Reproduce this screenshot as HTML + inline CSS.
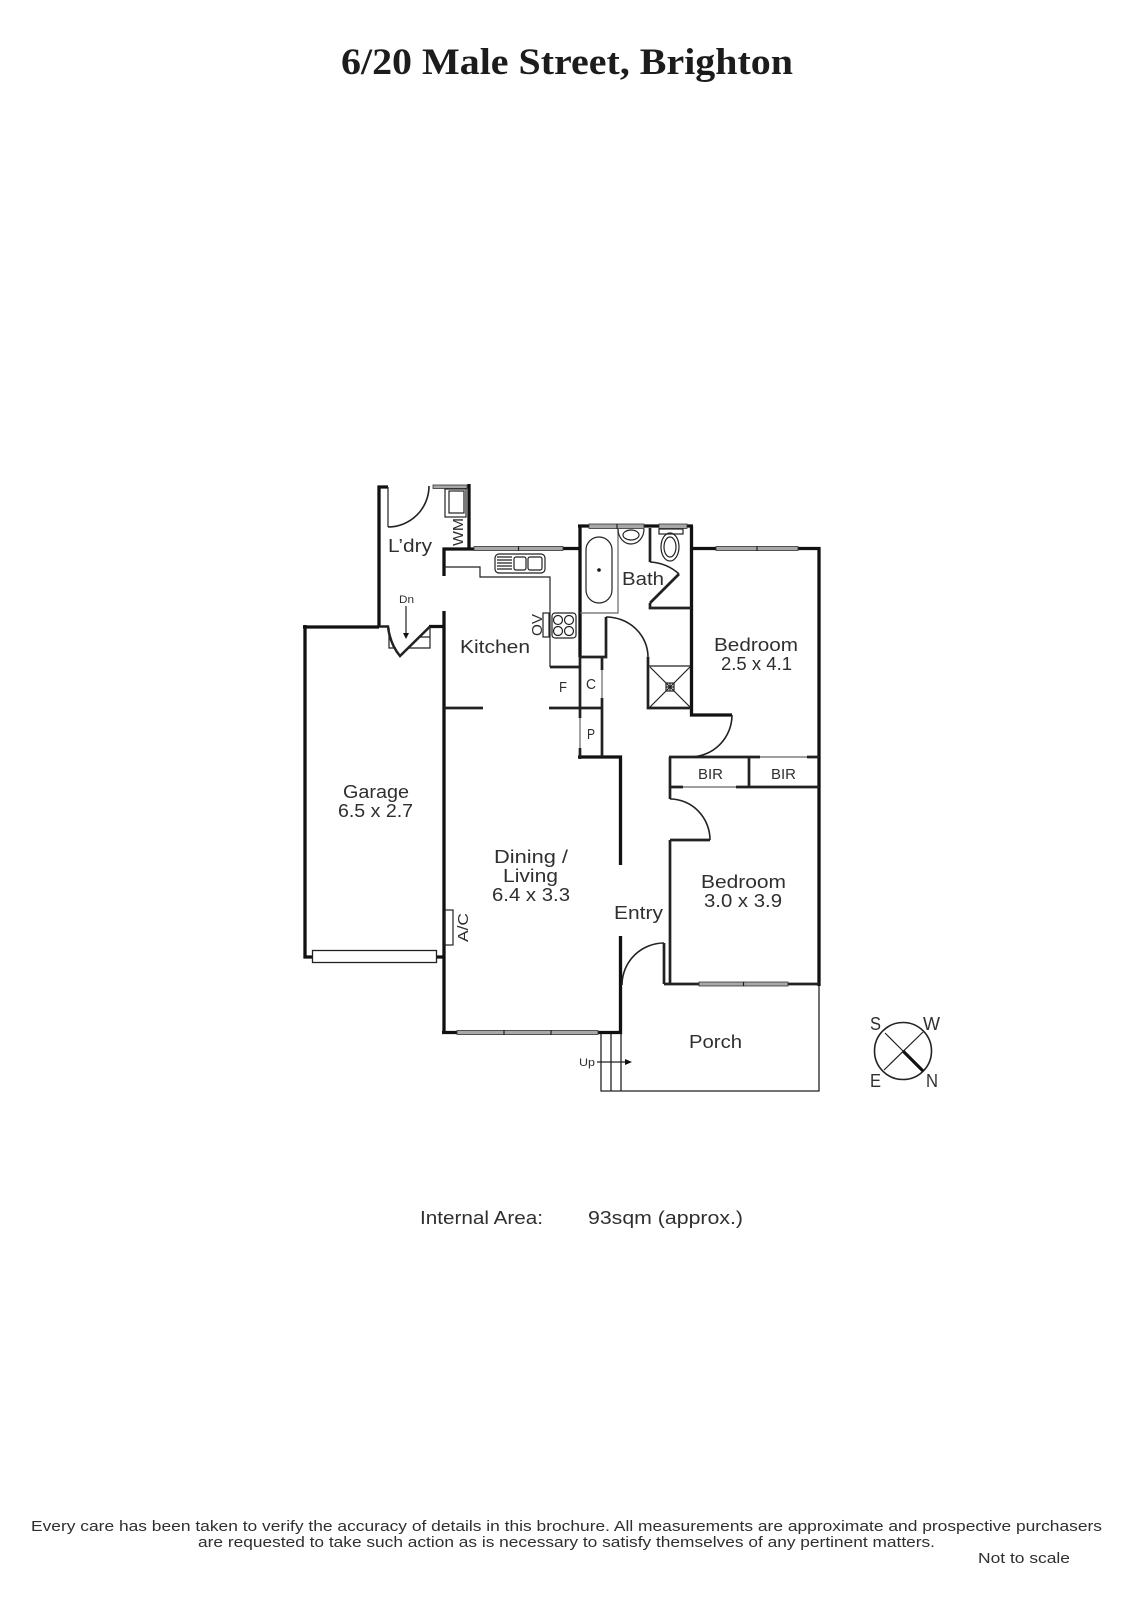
<!DOCTYPE html>
<html><head><meta charset="utf-8"><style>
html,body{margin:0;padding:0;background:#fff}
svg{display:block}
text{font-family:"Liberation Sans",sans-serif;fill:#2f2f2f}
.w{stroke:#111;fill:none;stroke-width:3.300}
.t{stroke:#222;fill:none;stroke-width:1.2}
.m{stroke:#222;fill:none;stroke-width:1.6}
.g{fill:#a8a8a8;stroke:#333;stroke-width:.8}
</style></head><body>
<svg width="1131" height="1600" viewBox="0 0 1131 1600" xmlns="http://www.w3.org/2000/svg">
<rect width="1131" height="1600" fill="#fff"/>
<text x="341" y="74" font-size="37" font-weight="bold" style="font-family:'Liberation Serif',serif;fill:#1c1c1c" textLength="452" lengthAdjust="spacingAndGlyphs">6/20 Male Street, Brighton</text>

<!-- thick walls -->
<path class="w" d="M388 487H379V627"/>
<path class="w" d="M469 484V549M444 576V549H474"/>
<path class="w" d="M563 548.500H580M580 526V657M578 526H693M691.500 526V715H732"/>
<path class="w" d="M693 548.500H716M798 548.500H819V986"/>
<path class="w" d="M303 627H379"/>
<path class="w" d="M305 625V957H312M436 957H444"/>
<path class="w" d="M444 611V1034M429 626.500H444M442 1032.500H457M598 1032.500H622M620.500 1034V936M620.500 865V757H578"/>
<path class="m" style="stroke-width:2.700" d="M444 708H483M549 708H602M550 667H580M580 657H606V617M648 657V708H691M580 657V718M580 748V759M602 657V670M602 698V757"/>
<path class="m" style="stroke-width:2.700" d="M650 528V562M650 603V608H691"/>
<path class="m" style="stroke-width:2.700" d="M679 574L650 603"/>
<path class="m" style="stroke-width:2.700" d="M669 757H760M807 757H819M670 757V799M749 757V787M671 787H683M736 787H819M670 840H710M670 840V984M664 943V984M664 984H699M788 984H819"/>

<!-- stair / dn -->
<path class="m" style="stroke-width:2.500" d="M379 626.500H388Q390 644 400 656L430 626.500"/>
<path class="t" d="M430 626V648H408M420 637H430M389 628V648H396"/>
<path class="t" d="M406 606V634"/><path d="M403 633H409L406 639Z" fill="#111"/>

<!-- thin lines -->
<path class="t" d="M444 567H480V577H550V667"/>
<path class="t" style="stroke:#666" d="M618 529V613H580M580 718V748M602 670V698M683 787H736M760 757H807"/>
<path class="t" d="M388 487V527M606 617"/>
<path class="m" d="M388 527A41 41 0 0 0 429 486"/>
<path class="m" d="M606 617A42 40 0 0 1 648 657"/>
<path class="m" d="M732 715A42 42 0 0 1 690 757"/>
<path class="m" d="M670 799A40 41 0 0 1 710 840"/>
<path class="m" d="M664 943A42 42 0 0 0 622 985"/>
<path class="m" d="M650 562Q667 563 679 574"/>

<!-- windows -->
<rect class="g" x="433" y="485" width="34" height="3.500"/>
<rect class="g" x="474" y="546.500" width="89" height="4"/><path class="t" d="M518.500 546V551"/>
<rect class="g" x="589" y="524" width="55" height="4.500"/><path class="t" d="M617 524V529"/>
<rect class="g" x="659" y="524" width="28" height="4.500"/>
<rect class="g" x="716" y="546.500" width="82" height="4"/><path class="t" d="M757 546V551"/>
<rect class="g" x="457" y="1030.500" width="141" height="4"/><path class="t" d="M504 1030V1035M551 1030V1035"/>
<rect class="g" x="699" y="982" width="89" height="4"/><path class="t" d="M743.500 982V986"/>
<rect x="312.500" y="950.500" width="124" height="12" fill="#fff" stroke="#222" stroke-width="1.300"/>

<!-- fixtures -->
<rect class="t" x="445" y="489" width="21" height="28"/>
<rect class="t" x="449" y="491" width="15" height="22"/>
<rect class="m" style="stroke-width:1.200" x="495" y="554" width="50" height="19" rx="4"/>
<path class="t" d="M497 557H512M497 560H512M497 563H512M497 566H512M497 569H512"/>
<rect class="t" x="514" y="557" width="12" height="13" rx="2"/>
<rect class="t" x="528" y="557" width="14" height="13" rx="2"/>
<rect class="t" x="552" y="613" width="24" height="25" rx="3"/>
<circle class="t" cx="558" cy="620" r="4.500"/><circle class="t" cx="569" cy="620" r="4.500"/>
<circle class="t" cx="558" cy="631" r="4.500"/><circle class="t" cx="569" cy="631" r="4.500"/>
<rect class="t" x="543" y="613" width="6" height="24"/>
<rect class="t" x="586" y="537" width="26" height="66" rx="13"/>
<circle cx="599" cy="570" r="1.800" fill="#111"/>
<path class="t" d="M618 529A13 15 0 0 0 644 529"/>
<ellipse class="t" cx="631" cy="535" rx="8" ry="5"/>
<rect class="t" x="659" y="529" width="24" height="5"/>
<ellipse class="t" cx="670" cy="547" rx="9" ry="14"/>
<ellipse class="t" cx="670" cy="547" rx="6" ry="10"/>
<path class="t" d="M648 666H691M650 667L690 707M690 667L650 707"/>
<rect class="t" x="666" y="683" width="8" height="8"/><path class="t" d="M670 683V691M666 687H674"/>
<rect class="t" x="445" y="910" width="8" height="35"/>

<!-- porch -->
<path class="t" style="stroke-width:1.300" d="M819 986V1091H601V1034M611 1034V1091M621 1034V1091"/>
<path class="t" d="M597 1062H626"/><path d="M625 1059L632 1062L625 1065Z" fill="#111"/>

<!-- compass -->
<circle class="m" cx="903" cy="1051" r="28.500"/>
<path class="t" d="M885 1033L903 1051M923 1032L884 1070"/>
<path d="M903 1051L923 1071" stroke="#111" stroke-width="3.200"/>

<!-- labels -->
<g font-size="18">
<text x="388" y="552" textLength="44" lengthAdjust="spacingAndGlyphs">L’dry</text>
<text x="460" y="653" textLength="70" lengthAdjust="spacingAndGlyphs">Kitchen</text>
<text x="622" y="585" textLength="42" lengthAdjust="spacingAndGlyphs">Bath</text>
<text x="714" y="651" textLength="84" lengthAdjust="spacingAndGlyphs">Bedroom</text>
<text x="721" y="670" textLength="71" lengthAdjust="spacingAndGlyphs">2.5 x 4.1</text>
<text x="343" y="798" textLength="66" lengthAdjust="spacingAndGlyphs">Garage</text>
<text x="338" y="817" textLength="75" lengthAdjust="spacingAndGlyphs">6.5 x 2.7</text>
<text x="494" y="863" textLength="74" lengthAdjust="spacingAndGlyphs">Dining /</text>
<text x="503" y="882" textLength="55" lengthAdjust="spacingAndGlyphs">Living</text>
<text x="492" y="901" textLength="78" lengthAdjust="spacingAndGlyphs">6.4 x 3.3</text>
<text x="614" y="919" textLength="49" lengthAdjust="spacingAndGlyphs">Entry</text>
<text x="701" y="888" textLength="85" lengthAdjust="spacingAndGlyphs">Bedroom</text>
<text x="704" y="907" textLength="78" lengthAdjust="spacingAndGlyphs">3.0 x 3.9</text>
<text x="689" y="1048" textLength="53" lengthAdjust="spacingAndGlyphs">Porch</text>
<text x="420" y="1224" textLength="123" lengthAdjust="spacingAndGlyphs">Internal Area:</text>
<text x="588" y="1224" textLength="155" lengthAdjust="spacingAndGlyphs">93sqm (approx.)</text>
<text x="870" y="1030" textLength="11" lengthAdjust="spacingAndGlyphs">S</text>
<text x="923" y="1030" textLength="17" lengthAdjust="spacingAndGlyphs">W</text>
<text x="870" y="1087" textLength="11" lengthAdjust="spacingAndGlyphs">E</text>
<text x="926" y="1087" textLength="12" lengthAdjust="spacingAndGlyphs">N</text>
</g>
<g font-size="15">
<text x="559" y="692" textLength="8" lengthAdjust="spacingAndGlyphs">F</text>
<text x="586" y="689" textLength="10" lengthAdjust="spacingAndGlyphs">C</text>
<text x="587" y="739" textLength="8" lengthAdjust="spacingAndGlyphs">P</text>
<text x="698" y="779" textLength="25" lengthAdjust="spacingAndGlyphs">BIR</text>
<text x="771" y="779" textLength="25" lengthAdjust="spacingAndGlyphs">BIR</text>
<text transform="translate(468,942) rotate(-90)" textLength="29" lengthAdjust="spacingAndGlyphs">A/C</text>
<text transform="translate(463,546) rotate(-90)" textLength="28" lengthAdjust="spacingAndGlyphs">WM</text>
<text transform="translate(542,636) rotate(-90)" textLength="22" lengthAdjust="spacingAndGlyphs">OV</text>
<text x="31" y="1531" textLength="1071" lengthAdjust="spacingAndGlyphs">Every care has been taken to verify the accuracy of details in this brochure.  All measurements are approximate and prospective purchasers</text>
<text x="198" y="1547" textLength="737" lengthAdjust="spacingAndGlyphs">are requested to take such action as is necessary to satisfy themselves of any pertinent matters.</text>
<text x="978" y="1563" textLength="92" lengthAdjust="spacingAndGlyphs">Not to scale</text>
</g>
<g font-size="11">
<text x="399" y="603" textLength="15" lengthAdjust="spacingAndGlyphs">Dn</text>
<text x="579" y="1066" textLength="16" lengthAdjust="spacingAndGlyphs">Up</text>
</g>
</svg>
</body></html>
